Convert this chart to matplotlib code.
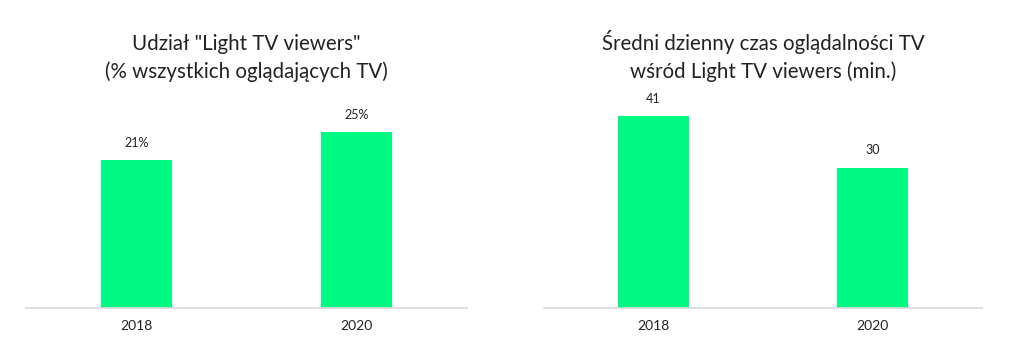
import matplotlib.pyplot as plt

plt.rcParams['font.family'] = ['Lato', 'DejaVu Sans']

years = ['2018', '2020']
share_light = [21, 25]
share_labels = ['21%', '25%']
minutes_light = [41, 30]
minutes_labels = ['41', '30']

title_left = 'Udział "Light TV viewers"\n(% wszystkich oglądających TV)'
title_right = 'Średni dzienny czas oglądalności TV\nwśród Light TV viewers (min.)'

green = '#00F982'
W, H = 1012, 353
fig = plt.figure(figsize=(W / 100, H / 100), dpi=100)

base_y = 308
top_y = 100
axes_h = (base_y - top_y) / H


def draw_panel(x0, x1, values, labels, title, px_per_unit):
    ax = fig.add_axes([x0 / W, 1 - base_y / H, (x1 - x0) / W, axes_h])
    pos = range(len(values))
    bars = ax.bar(pos, values, width=0.32, color=green, zorder=2)
    ax.set_xlim(-0.5, 1.5)
    ax.set_ylim(0, (base_y - top_y) / px_per_unit)
    for b, lab in zip(bars, labels):
        ax.annotate(lab, (b.get_x() + b.get_width() / 2, b.get_height()),
                    textcoords='offset points', xytext=(0, 8),
                    ha='center', va='bottom', fontsize=9, color='#222222')
    ax.set_xticks(list(pos))
    ax.set_xticklabels(years, fontsize=10, color='#222222')
    ax.tick_params(axis='x', length=0, pad=9)
    ax.set_yticks([])
    for s in ['top', 'left', 'right']:
        ax.spines[s].set_visible(False)
    ax.spines['bottom'].set_color('#d9d9d9')
    ax.spines['bottom'].set_linewidth(1.2)
    ax.set_title(title, fontsize=14.8, color='#222222', pad=16, linespacing=1.45)
    return ax


draw_panel(26, 467, share_light, share_labels, title_left, 7.05)
draw_panel(544, 982, minutes_light, minutes_labels, title_right, 4.68)

fig.savefig('out.png', dpi=100)
